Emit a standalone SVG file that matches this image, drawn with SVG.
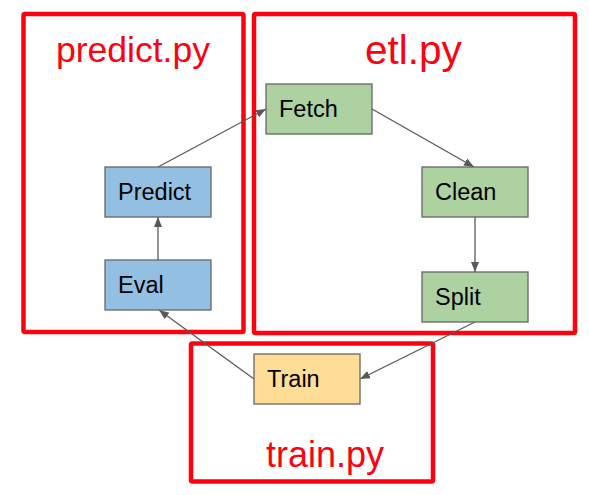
<svg xmlns="http://www.w3.org/2000/svg" width="589" height="495" viewBox="0 0 589 495">
<style>
.grp{fill:none;stroke:#ff0010;stroke-width:4.5;stroke-linejoin:round}
.title{fill:#ff0010;font-family:"Liberation Sans",Arial,sans-serif}
.node rect{stroke:#666666;stroke-width:1.3}
.node text{font-family:"Liberation Sans",Arial,sans-serif;font-size:23.5px;fill:#000}
.blue{fill:#93c0e2}
.green{fill:#aed1a1}
.yellow{fill:#fedd96}
.conn line{stroke:#595959;stroke-width:1.3;marker-end:url(#arr)}
</style>
<defs>
<marker id="arr" viewBox="0 0 10 10" refX="10" refY="5" markerWidth="10" markerHeight="10" markerUnits="userSpaceOnUse" orient="auto">
<path d="M0,1 L10,5 L0,9 Z" fill="#595959"/>
</marker>
</defs>
<rect width="589" height="495" fill="#ffffff"/>
<g id="group-predict">
<rect class="grp" x="23.5" y="14" width="220" height="318" rx="1.5"/>
<text class="title" x="56" y="62" font-size="35.5">predict.py</text>
</g>
<g id="group-etl">
<rect class="grp" x="254" y="14" width="321" height="319" rx="1.5"/>
<text class="title" x="365" y="64" font-size="40.5">etl.py</text>
</g>
<g id="group-train">
<rect class="grp" x="191" y="343.5" width="242" height="138" rx="1.5"/>
<text class="title" x="266" y="467" font-size="36">train.py</text>
</g>
<g class="conn" id="connectors">
<line x1="158" y1="167" x2="266" y2="109"/>
<line x1="372" y1="109" x2="474" y2="167"/>
<line x1="475" y1="217" x2="475" y2="272"/>
<line x1="475" y1="322" x2="360" y2="379"/>
<line x1="254" y1="379" x2="159" y2="310"/>
<line x1="158" y1="260" x2="158" y2="217"/>
</g>
<g class="node" id="node-predict"><rect class="blue" x="105" y="167" width="106" height="50"/><text x="118" y="200">Predict</text></g>
<g class="node" id="node-eval"><rect class="blue" x="105" y="260" width="106" height="50"/><text x="118" y="293">Eval</text></g>
<g class="node" id="node-fetch"><rect class="green" x="266" y="84" width="106" height="50"/><text x="279" y="117">Fetch</text></g>
<g class="node" id="node-clean"><rect class="green" x="422" y="167" width="106" height="50"/><text x="435" y="200">Clean</text></g>
<g class="node" id="node-split"><rect class="green" x="422" y="272" width="106" height="50"/><text x="435" y="305">Split</text></g>
<g class="node" id="node-train"><rect class="yellow" x="254" y="354" width="106" height="50"/><text x="267" y="387">Train</text></g>
</svg>
